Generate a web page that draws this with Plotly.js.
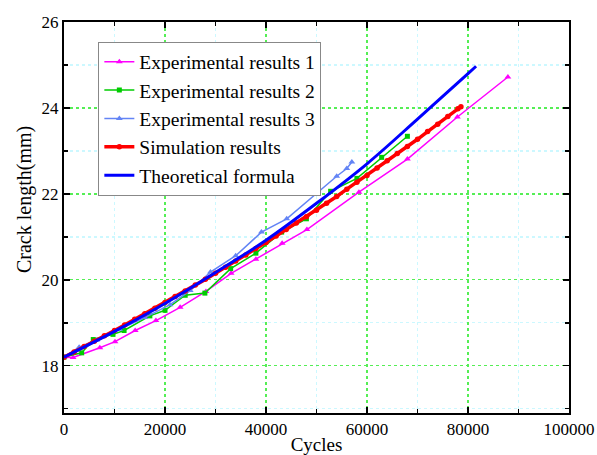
<!DOCTYPE html>
<html>
<head>
<meta charset="utf-8">
<script src="https://cdn.plot.ly/plotly-3.0.1.min.js"></script>
<style>html,body{margin:0;padding:0;background:#fff;}#chart{width:597px;height:455px;}</style>
</head>
<body>
<div id="chart"></div>
<script>
// Experimental results 1
const exp1X = [0, 1800, 7100, 10100, 14100, 18200, 23000, 28100, 33100, 38000, 43200, 48100, 58400, 68000, 77900, 87900];
const exp1Y = [18.2, 18.19, 18.42, 18.56, 18.82, 19.05, 19.36, 19.73, 20.15, 20.48, 20.85, 21.17, 22.04, 22.81, 23.79, 24.72];
// Experimental results 2
const exp2X = [0, 3500, 5800, 9700, 11900, 17000, 20000, 24000, 27900, 33000, 38000, 43100, 48000, 52800, 58000, 62900, 68000];
const exp2Y = [18.2, 18.30, 18.61, 18.73, 18.82, 19.16, 19.29, 19.64, 19.69, 20.26, 20.62, 21.11, 21.42, 22.06, 22.36, 22.85, 23.34];
// Experimental results 3
const exp3X = [0, 3000, 6500, 11000, 16000, 21000, 25000, 29000, 34000, 39100, 44100, 54000, 56000, 57000];
const exp3Y = [18.2, 18.43, 18.6, 18.85, 19.12, 19.42, 19.75, 20.18, 20.56, 21.11, 21.42, 22.41, 22.59, 22.74];
// Simulation results
const simX = [0, 2000, 4000, 6000, 8000, 10000, 12000, 14000, 16000, 18000, 20000, 22000, 24000, 26000, 28000, 30000,
  32000, 34000, 36000, 38000, 40000, 42000, 44000, 46000, 48000, 50000, 52000, 54000, 56000, 58000, 60000,
  62000, 64000, 66000, 68000, 70000, 72000, 74000, 76000, 78000, 78600];
const simY = [18.20, 18.32, 18.45, 18.57, 18.70, 18.82, 18.95, 19.08, 19.21, 19.34, 19.47, 19.61, 19.74, 19.88, 20.01, 20.15,
  20.29, 20.44, 20.58, 20.73, 20.87, 21.02, 21.17, 21.32, 21.47, 21.62, 21.78, 21.94, 22.11, 22.27, 22.43,
  22.60, 22.77, 22.94, 23.10, 23.27, 23.45, 23.62, 23.80, 23.98, 24.03];
// Theoretical formula
const theoX = [0, 10000, 20000, 30000, 40000, 50000, 60000, 70000, 80000, 81600];
const theoY = [18.2, 18.8, 19.45, 20.17, 20.92, 21.78, 22.7, 23.74, 24.8, 24.97];

const xTickVals = [0, 20000, 40000, 60000, 80000, 100000];
const yTickVals = [18, 20, 22, 24, 26];

const serif = 'Liberation Serif, Times New Roman, serif';

const traces = [
  {x: exp1X, y: exp1Y, name: 'Experimental results 1', mode: 'lines+markers',
   line: {color: '#ff00ff', width: 1.5}, marker: {symbol: 'triangle-up', size: 6, color: '#ff00ff'}},
  {x: exp2X, y: exp2Y, name: 'Experimental results 2', mode: 'lines+markers',
   line: {color: '#00cc00', width: 1.5}, marker: {symbol: 'square', size: 5, color: '#00cc00'}},
  {x: exp3X, y: exp3Y, name: 'Experimental results 3', mode: 'lines+markers',
   line: {color: '#6384f5', width: 1.5}, marker: {symbol: 'triangle-up', size: 6, color: '#6384f5'}},
  {x: simX, y: simY, name: 'Simulation results', mode: 'lines+markers',
   line: {color: '#ff0000', width: 3.5}, marker: {symbol: 'circle', size: 5.5, color: '#ff0000'}},
  {x: theoX, y: theoY, name: 'Theoretical formula', mode: 'lines', line: {color: '#0000ff', width: 3, shape: 'spline'}}
];

const axisCommon = {
  showline: true, linecolor: '#000', linewidth: 2, mirror: 'allticks',
  ticks: 'inside', ticklen: 6, tickwidth: 1.5, tickcolor: '#000',
  showgrid: true, gridcolor: '#55ee55', griddash: 'dot', gridwidth: 1.4,
  zeroline: false,
  tickfont: {family: serif, size: 17, color: '#000'}
};

const layout = {
  width: 597, height: 455,
  margin: {l: 64, r: 28, t: 22, b: 42},
  paper_bgcolor: '#fff', plot_bgcolor: '#fff',
  showlegend: true,
  legend: {x: 0.068, y: 0.95, xanchor: 'left', yanchor: 'top',
    bgcolor: '#fff', bordercolor: '#888', borderwidth: 1,
    font: {family: serif, size: 19.5, color: '#000'}, tracegroupgap: 0},
  xaxis: Object.assign({}, axisCommon, {
    range: [0, 100000], tickvals: xTickVals, ticktext: xTickVals.map(String),
    minor: {dtick: 10000, tick0: 0, showgrid: true, gridcolor: '#ccf8ff', griddash: 'dot', ticks: 'inside', ticklen: 4, tickcolor: '#000'},
    title: {text: 'Cycles', font: {family: serif, size: 19, color: '#000'}, standoff: 2}
  }),
  yaxis: Object.assign({}, axisCommon, {
    range: [16.9, 26], tickvals: yTickVals,
    minor: {dtick: 1, tick0: 0, showgrid: true, gridcolor: '#ccf8ff', griddash: 'dot', ticks: 'inside', ticklen: 4, tickcolor: '#000'}
  }),
  annotations: [{
    text: 'Crack length(mm)', textangle: -90, showarrow: false,
    xref: 'paper', yref: 'paper', x: -0.077, y: 0.545, xanchor: 'center', yanchor: 'middle',
    font: {family: serif, size: 20, color: '#000'}
  }]
};

Plotly.newPlot('chart', traces, layout, {displayModeBar: false, staticPlot: true});
</script>
</body>
</html>
